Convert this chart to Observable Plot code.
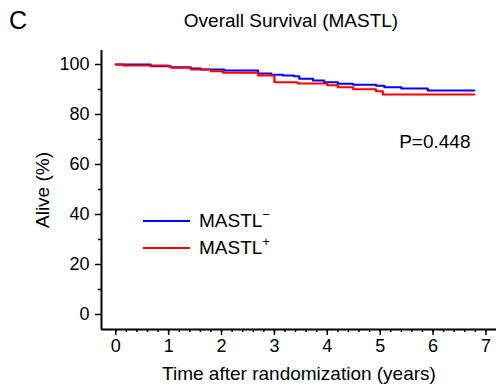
<!DOCTYPE html>
<html>
<head>
<meta charset="utf-8">
<script src="https://cdn.jsdelivr.net/npm/d3@7"></script>
<script src="https://cdn.jsdelivr.net/npm/@observablehq/plot@0.6"></script>
<style>
  html, body { margin: 0; padding: 0; background: #fff; }
  body { font-family: "Liberation Sans", Arial, sans-serif; }
  #wrap { position: relative; width: 496px; height: 387px; }
  .ov { position: absolute; color: #000; white-space: nowrap; line-height: 1; }
  .leg { position: absolute; display: flex; align-items: center; font-size: 19px; line-height: 22px; }
  .leg .ln { width: 47px; height: 2px; margin-right: 9px; }
  .leg sup { font-size: 13px; position: relative; top: -1px; line-height: 0; }
</style>
</head>
<body>
<div id="wrap"></div>
<script>
// ---- data ----
const panelLetter = "C";
const title = "Overall Survival (MASTL)";
const xLabel = "Time after randomization (years)";
const yLabel = "Alive (%)";
const pText = "P=0.448";
const seriesNames = ["MASTL-", "MASTL+"];
const seriesColors = ["#0000ff", "#ff0000"];

const negTime = [0, 0.66, 1.04, 1.42, 1.61, 2.05, 2.69, 2.94, 3.16, 3.37, 3.47, 3.73, 3.94, 4.2, 4.49, 4.92, 5.08, 5.4, 5.9, 6.78];
const negSurv = [100, 99.3, 98.9, 98.4, 98.0, 97.6, 96.4, 95.9, 95.6, 95.3, 94.3, 93.6, 92.9, 92.3, 91.9, 91.5, 90.9, 90.4, 89.6, 89.6];

const posTime = [0, 0.13, 1.0, 1.05, 1.42, 1.8, 2.03, 2.69, 3.0, 3.44, 4.0, 4.2, 4.49, 4.92, 5.05, 6.78];
const posSurv = [100, 99.6, 99.2, 98.7, 98.0, 97.3, 96.7, 95.6, 92.9, 92.4, 91.7, 90.9, 90.1, 89.3, 88.0, 88.0];

const xMajor = [0, 1, 2, 3, 4, 5, 6, 7];
const xMinor = d3.range(0, 7.01, 0.2).map(v => +v.toFixed(2));
const yMajor = [0, 20, 40, 60, 80, 100];
const yMinor = [10, 30, 50, 70, 90];
const xDomain = [-0.27, 7.2];
const yDomain = [-6, 105.6];

const rows = [
  ...negTime.map((t, i) => ({t, s: negSurv[i], g: seriesNames[0]})),
  ...posTime.map((t, i) => ({t, s: posSurv[i], g: seriesNames[1]}))
];

const font = '"Liberation Sans", Arial, sans-serif';

const chart = Plot.plot({
  width: 496,
  height: 387,
  marginLeft: 101,
  marginRight: 0,
  marginTop: 50,
  marginBottom: 58,
  style: {fontFamily: font, fontSize: "18px", color: "#000", background: "#fff"},
  x: {domain: xDomain},
  y: {domain: yDomain},
  color: {domain: seriesNames, range: seriesColors},
  marks: [
    Plot.axisX({ticks: xMinor, tickSize: 3, tickFormat: () => "", label: null, strokeWidth: 1.5}),
    Plot.axisX({ticks: xMajor, tickSize: 6, tickPadding: 4, fontSize: 18, label: null, strokeWidth: 1.5}),
    Plot.axisX({ticks: [], label: xLabel, labelAnchor: "center", labelArrow: "none", labelOffset: 50, fontSize: 19}),
    Plot.axisY({ticks: yMinor, tickSize: 3, tickFormat: () => "", label: null, strokeWidth: 1.5}),
    Plot.axisY({ticks: yMajor, tickSize: 6, tickPadding: 6, fontSize: 18, label: null, strokeWidth: 1.5}),
    Plot.axisY({ticks: [], label: yLabel, labelAnchor: "center", labelArrow: "none", labelOffset: 66, fontSize: 19}),
    Plot.ruleX([xDomain[0]], {stroke: "#000", strokeWidth: 2}),
    Plot.ruleY([yDomain[0]], {stroke: "#000", strokeWidth: 2}),
    Plot.line(rows, {x: "t", y: "s", z: "g", stroke: "g", curve: "step-after", strokeWidth: 2.2}),
    Plot.text([pText], {frameAnchor: "top-right", lineAnchor: "middle", text: d => d, dx: -26, dy: 91, fontSize: 19, textAnchor: "end"}),
    Plot.text([title], {frameAnchor: "top", lineAnchor: "middle", text: d => d, dx: -8, dy: -30, fontSize: 19})
  ]
});

const wrap = document.getElementById("wrap");
wrap.appendChild(chart);

const letter = document.createElement("div");
letter.className = "ov";
letter.style.left = "9px";
letter.style.top = "8px";
letter.style.fontSize = "25px";
letter.textContent = panelLetter;
wrap.appendChild(letter);

const legTops = [210, 237];
const sups = ["\u2212", "+"];
seriesNames.forEach((n, i) => {
  const d = document.createElement("div");
  d.className = "leg";
  d.style.left = "143px";
  d.style.top = legTops[i] + "px";
  const ln = document.createElement("span");
  ln.className = "ln";
  ln.style.background = seriesColors[i];
  d.appendChild(ln);
  const tx = document.createElement("span");
  tx.innerHTML = n.slice(0, -1) + "<sup>" + sups[i] + "</sup>";
  d.appendChild(tx);
  wrap.appendChild(d);
});
</script>
</body>
</html>
